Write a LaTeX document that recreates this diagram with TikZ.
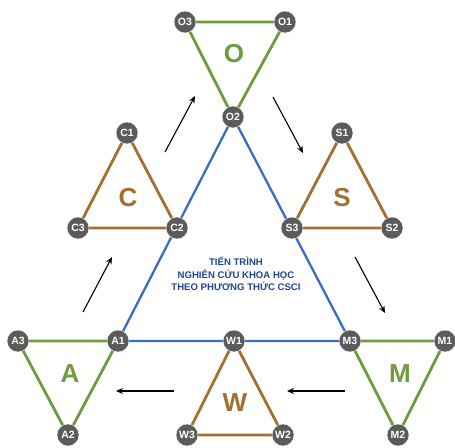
\documentclass[tikz,border=0pt]{standalone}
\usepackage{fontspec}
\setmainfont{Liberation Sans}
\usetikzlibrary{arrows.meta}
\definecolor{gr}{HTML}{6E9B3C}
\definecolor{br}{HTML}{A2702F}
\definecolor{bl}{HTML}{3A6CC6}
\definecolor{nd}{HTML}{5B5B5B}
\definecolor{tx}{HTML}{1F4592}
\tikzset{
  pt/.style={circle,fill=nd,draw=white,line width=0.4pt,minimum size=22pt,inner sep=0pt,text=white,font=\fontsize{10.5}{10.5}\selectfont\bfseries},
  gline/.style={draw=gr,line width=2.8pt},
  bline/.style={draw=br,line width=2.8pt},
  blue/.style={draw=bl,line width=2.3pt},
  big/.style={font=\fontsize{26}{26}\selectfont\bfseries},
  flow/.style={draw=black,line width=1.1pt,-{Stealth[length=7pt,width=6pt]}}
}
\begin{document}
\begin{tikzpicture}[x=1pt,y=-1pt]
\useasboundingbox (0,0) rectangle (455,447);
% coordinates
\coordinate (o3) at (185,22); \coordinate (o1) at (285,22); \coordinate (o2) at (233,117);
\coordinate (c1) at (127,133); \coordinate (c3) at (78,228); \coordinate (c2) at (177,228);
\coordinate (s1) at (342,133); \coordinate (s3) at (292,228); \coordinate (s2) at (392,228);
\coordinate (a3) at (18,341); \coordinate (a1) at (118,341); \coordinate (a2) at (68,435);
\coordinate (w1) at (234,341); \coordinate (w3) at (187,435); \coordinate (w2) at (283,435);
\coordinate (m3) at (350,341); \coordinate (m1) at (445,341); \coordinate (m2) at (398,435);
% big blue triangle
\draw[blue] (o2) -- (a1) -- (m3) -- cycle;
% small triangles
\draw[gline] (o3) -- (o1) -- (o2) -- cycle;
\draw[bline] (c1) -- (c2) -- (c3) -- cycle;
\draw[bline] (s1) -- (s2) -- (s3) -- cycle;
\draw[gline] (a3) -- (a1) -- (a2) -- cycle;
\draw[bline] (w1) -- (w2) -- (w3) -- cycle;
\draw[gline] (m3) -- (m1) -- (m2) -- cycle;
% points
\foreach \n/\t in {o3/O3,o1/O1,o2/O2,c1/C1,c3/C3,c2/C2,s1/S1,s3/S3,s2/S2,a3/A3,a1/A1,a2/A2,w1/W1,w3/W3,w2/W2,m3/M3,m1/M1,m2/M2}
  \node[pt] (n\n) at (\n) {\t};
% letters
\node[big,text=gr] (lo) at (234,54) {O};
\node[big,text=br] (lc) at (128,198) {C};
\node[big,text=br] (ls) at (342,198) {S};
\node[big,text=gr] (la) at (70,374) {A};
\node[big,text=br] (lw) at (235,403) {W};
\node[big,text=gr] (lm) at (400,374) {M};
% centre text
\node[text=tx,align=center,font=\fontsize{9.6}{12.4}\selectfont\bfseries] (title) at (236,274)
  {TIẾN TRÌNH\\NGHIÊN CỨU KHOA HỌC\\THEO PHƯƠNG THỨC CSCI};
% flow arrows
\coordinate (f1a) at (83,312); \coordinate (f1b) at (112,257);
\coordinate (f2a) at (165,152); \coordinate (f2b) at (195,96);
\coordinate (f3a) at (273,97); \coordinate (f3b) at (303,153);
\coordinate (f4a) at (355,257); \coordinate (f4b) at (385,313);
\coordinate (f5a) at (345,391); \coordinate (f5b) at (287,391);
\coordinate (f6a) at (174,391); \coordinate (f6b) at (116,391);
\draw[flow] (f1a) -- (f1b);
\draw[flow] (f2a) -- (f2b);
\draw[flow] (f3a) -- (f3b);
\draw[flow] (f4a) -- (f4b);
\draw[flow] (f5a) -- (f5b);
\draw[flow] (f6a) -- (f6b);
\end{tikzpicture}
\end{document}
